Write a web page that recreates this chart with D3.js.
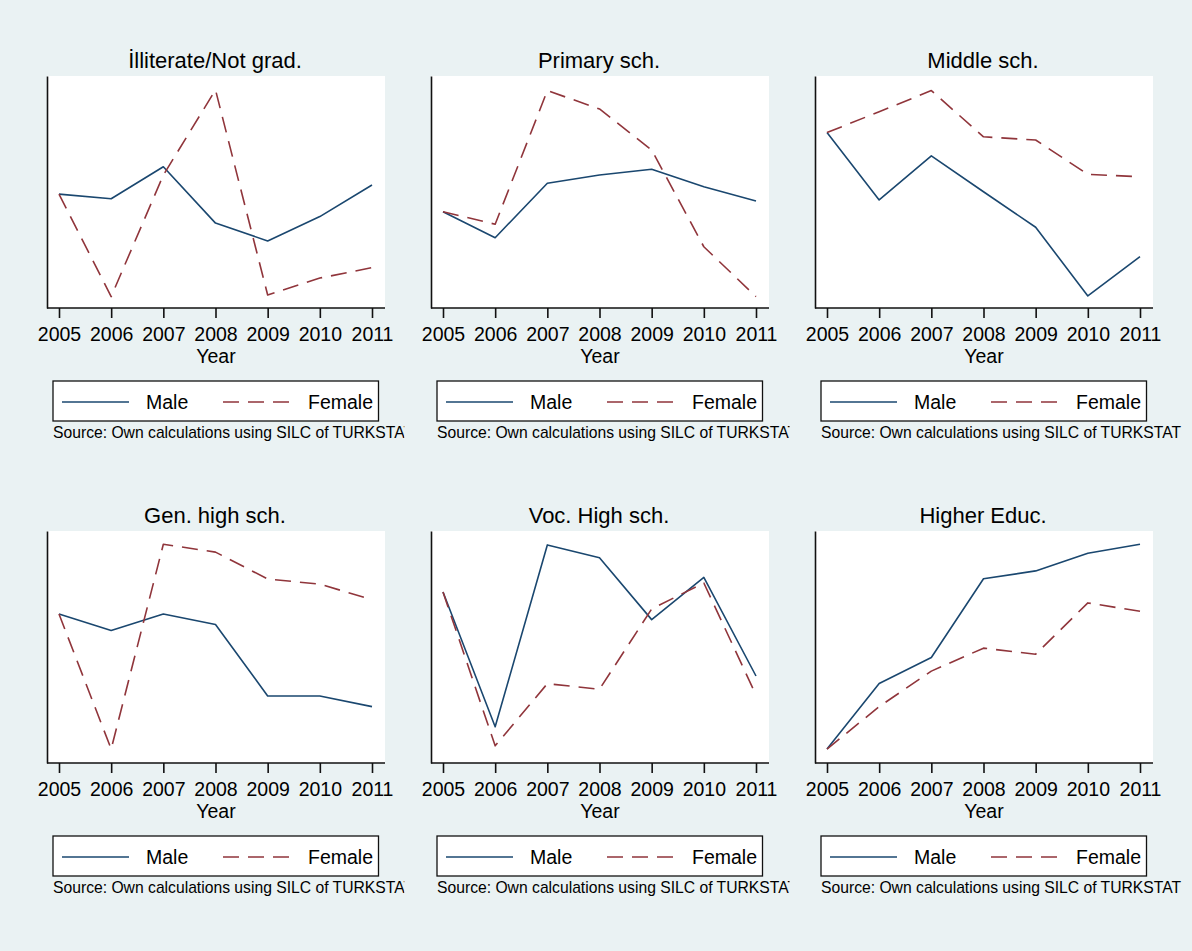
<!DOCTYPE html>
<html>
<head>
<meta charset="utf-8">
<script src="https://cdn.jsdelivr.net/npm/d3@7"></script>
<style>
  body { margin: 0; background: #eaf2f3; }
  text { font-family: "Liberation Sans", Arial, sans-serif; fill: #000; }
</style>
</head>
<body>
<svg></svg>
<script>
// data (y axis has no labels, values are relative 0-100 within each panel)
let years = [2005, 2006, 2007, 2008, 2009, 2010, 2011]

let panelTitles = ["\u0130lliterate/Not grad.", "Primary sch.", "Middle sch.",
                   "Gen. high sch.", "Voc. High sch.", "Higher Educ."]

let maleValues = [
    [49.1, 47.1, 60.9, 36.6, 28.9, 39.4, 53.0],
    [41.5, 30.3, 53.8, 57.3, 59.8, 52.3, 46.1],
    [75.6, 46.6, 65.6, 50.1, 34.8, 5.2, 22.1],
    [64.2, 57.1, 64.2, 59.7, 28.9, 28.9, 24.3],
    [73.7, 15.6, 94.0, 88.5, 61.8, 80.0, 37.5],
    [6.0, 34.3, 45.5, 79.4, 82.8, 90.4, 94.3]
]

let femaleValues = [
    [49.1, 4.9, 57.3, 94.0, 5.6, 12.9, 17.4],
    [41.5, 36.1, 93.7, 85.8, 68.1, 26.4, 4.9],
    [75.6, 84.6, 93.7, 73.8, 72.4, 57.6, 56.6],
    [64.2, 6.0, 94.3, 90.9, 79.3, 77.1, 70.4],
    [73.7, 7.4, 34.2, 31.8, 66.4, 77.6, 29.3],
    [6.0, 24.3, 39.6, 49.5, 46.9, 69.0, 65.4]
]

let seriesLabels = ["Male", "Female"]
let xTitle = "Year"
let sourceNote = "Source: Own calculations using SILC of TURKSTAT"

let width = 1192,
    height = 951

let colors = ["#1a476f", "#90353b"]
let dash = "16,9"

let plotW = 338, plotH = 232
let colStep = 384, rowStep = 455
let clipRight = [404.3, 789.5, width]

let svg = d3.select('svg')
    .attr('width', width)
    .attr('height', height)

svg.append('rect')
    .attr('width', width)
    .attr('height', height)
    .attr('fill', '#eaf2f3')

let defs = svg.append('defs')

let x = d3.scalePoint()
    .domain(years)
    .range([12, 325])

let y = d3.scaleLinear()
    .domain([0, 100])
    .range([plotH, 0])

let line = d3.line()
    .x((d, i) => x(years[i]))
    .y(d => y(d))

panelTitles.forEach((title, p) => {
    let col = p % 3, row = Math.floor(p / 3)
    let left = 47 + col * colStep,
        top = 76 + row * rowStep

    let g = svg.append('g')
        .attr('transform', `translate(${left},${top})`)

    // plot region
    g.append('rect')
        .attr('width', plotW)
        .attr('height', plotH)
        .attr('fill', '#fff')

    g.append('text')
        .attr('x', plotW / 2 - 1)
        .attr('y', -8)
        .attr('text-anchor', 'middle')
        .style('font-size', '22px')
        .text(title)

    // lines
    let series = [maleValues[p], femaleValues[p]]
    g.selectAll('path.series')
        .data(series)
        .enter().append('path')
        .attr('class', 'series')
        .attr('d', line)
        .attr('fill', 'none')
        .attr('stroke', (d, i) => colors[i])
        .attr('stroke-width', 1.6)
        .attr('stroke-dasharray', (d, i) => i == 1 ? dash : null)
        .attr('stroke-linejoin', 'round')

    // y axis: line only
    let ya = g.append('g')
        .call(d3.axisLeft(y).ticks(0).tickSizeOuter(0))
    ya.select('.domain').attr('stroke', '#111').attr('stroke-width', 1.6)

    // x axis
    let xa = g.append('g')
        .attr('transform', `translate(0,${plotH})`)
        .call(d3.axisBottom(x).tickSize(10).tickPadding(9).tickSizeOuter(0))
    xa.select('.domain').remove()
    xa.selectAll('.tick line').attr('stroke', '#111').attr('stroke-width', 1.6)
    xa.selectAll('.tick text')
        .style('font-size', '19.5px')
        .style('font-family', '"Liberation Sans", Arial, sans-serif')
        .attr('fill', '#000')
    g.append('line')
        .attr('x1', 0).attr('x2', plotW)
        .attr('y1', plotH).attr('y2', plotH)
        .attr('stroke', '#111')
        .attr('stroke-width', 1.6)

    g.append('text')
        .attr('x', plotW / 2)
        .attr('y', plotH + 55)
        .attr('text-anchor', 'middle')
        .style('font-size', '19.5px')
        .text(xTitle)

    // legend
    let lg = g.append('g')
        .attr('transform', `translate(6,${plotH + 73})`)
    lg.append('rect')
        .attr('width', 325.5)
        .attr('height', 40)
        .attr('fill', '#fff')
        .attr('stroke', '#111')
        .attr('stroke-width', 1.3)
    let items = [{x0: 9, x1: 76, tx: 93}, {x0: 170, x1: 236, tx: 255}]
    items.forEach((it, i) => {
        lg.append('line')
            .attr('x1', it.x0).attr('x2', it.x1)
            .attr('y1', 21).attr('y2', 21)
            .attr('stroke', colors[i])
            .attr('stroke-width', 1.3)
            .attr('stroke-dasharray', i == 1 ? dash : null)
        lg.append('text')
            .attr('x', it.tx)
            .attr('y', 27.5)
            .style('font-size', '19.5px')
            .text(seriesLabels[i])
    })

    // source note, cut at the cell edge like the original
    let clipId = 'clip' + p
    let cx0 = col * colStep
    defs.append('clipPath').attr('id', clipId)
        .append('rect')
        .attr('x', cx0 - left)
        .attr('y', plotH)
        .attr('width', clipRight[col] - cx0)
        .attr('height', 200)
    g.append('text')
        .attr('x', 6)
        .attr('y', plotH + 130)
        .attr('clip-path', `url(#${clipId})`)
        .style('font-size', '15.7px')
        .text(sourceNote)
})
</script>
</body>
</html>
